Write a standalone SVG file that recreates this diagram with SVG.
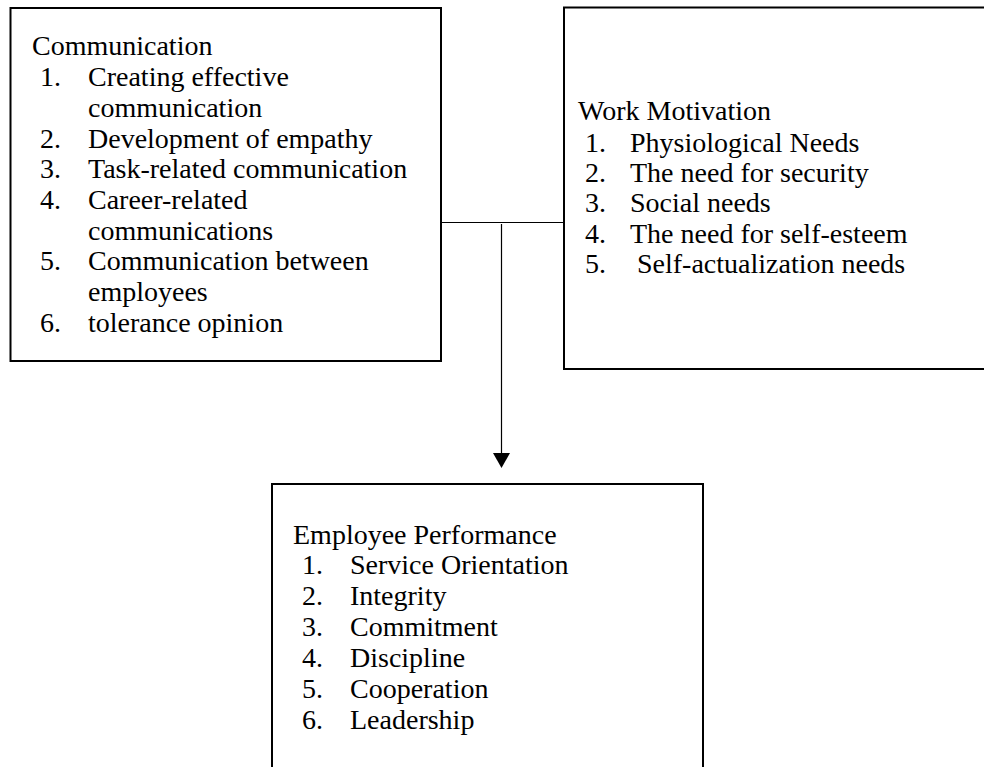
<svg xmlns="http://www.w3.org/2000/svg" width="984" height="767" viewBox="0 0 984 767">
  <style>
    .box { fill: #ffffff; stroke: #000000; stroke-width: 2; }
    .wire { fill: none; stroke: #000000; stroke-width: 1.2; }
    .lbl { font-family: 'Liberation Serif', Tinos, 'Times New Roman', Times, serif; font-size: 28px; fill: #000000; }
  </style>
  <rect x="0" y="0" width="984" height="767" fill="#ffffff"/>

  <g id="connectors">
    <line class="wire" x1="441" y1="222.5" x2="564" y2="222.5"/>
    <line class="wire" x1="501.5" y1="224" x2="501.5" y2="454"/>
    <polygon points="493,453 510,453 501.5,468" fill="#000000"/>
  </g>

  <g id="communication" class="lbl">
    <rect class="box" x="10.5" y="8" width="430.5" height="353"/>
    <text x="32" y="55">Communication</text>
    <text x="40" y="86">1.</text><text x="88" y="86">Creating effective</text>
    <text x="88" y="116.7">communication</text>
    <text x="40" y="147.5">2.</text><text x="88" y="147.5">Development of empathy</text>
    <text x="40" y="178.2">3.</text><text x="88" y="178.2">Task-related communication</text>
    <text x="40" y="209">4.</text><text x="88" y="209">Career-related</text>
    <text x="88" y="239.5">communications</text>
    <text x="40" y="270.2">5.</text><text x="88" y="270.2">Communication between</text>
    <text x="88" y="301">employees</text>
    <text x="40" y="331.7">6.</text><text x="88" y="331.7">tolerance opinion</text>
  </g>

  <g id="work-motivation" class="lbl">
    <rect class="box" x="564" y="7.5" width="430" height="361.5"/>
    <text x="578" y="120">Work Motivation</text>
    <text x="585" y="151.5">1.</text><text x="630" y="151.5">Physiological Needs</text>
    <text x="585" y="181.8">2.</text><text x="630" y="181.8">The need for security</text>
    <text x="585" y="212">3.</text><text x="630" y="212">Social needs</text>
    <text x="585" y="242.5">4.</text><text x="630" y="242.5">The need for self-esteem</text>
    <text x="585" y="273">5.</text><text x="637" y="273">Self-actualization needs</text>
  </g>

  <g id="employee-performance" class="lbl">
    <rect class="box" x="272" y="484" width="431" height="300"/>
    <text x="293" y="544">Employee Performance</text>
    <text x="302" y="574">1.</text><text x="350" y="574">Service Orientation</text>
    <text x="302" y="605">2.</text><text x="350" y="605">Integrity</text>
    <text x="302" y="636">3.</text><text x="350" y="636">Commitment</text>
    <text x="302" y="667">4.</text><text x="350" y="667">Discipline</text>
    <text x="302" y="698">5.</text><text x="350" y="698">Cooperation</text>
    <text x="302" y="729">6.</text><text x="350" y="729">Leadership</text>
  </g>
</svg>
